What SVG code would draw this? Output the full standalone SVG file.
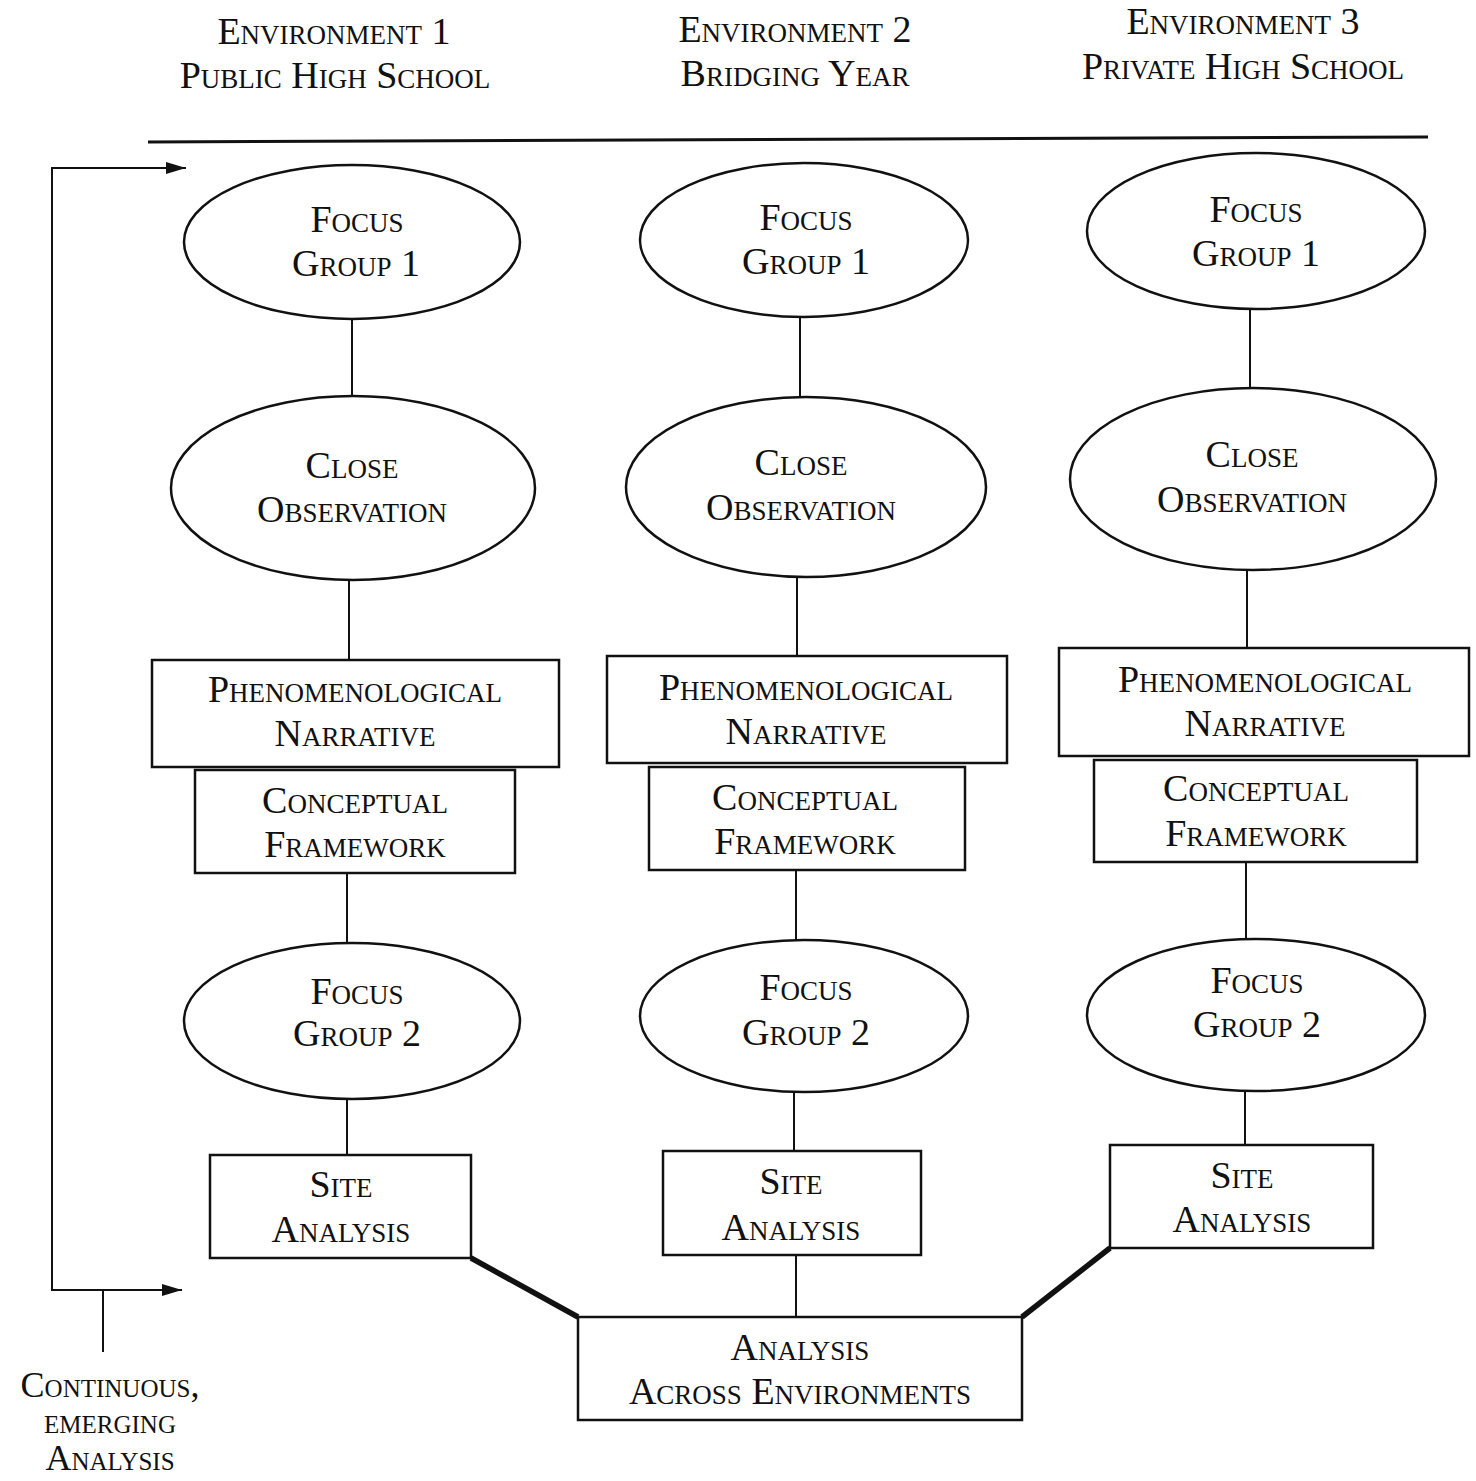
<svg xmlns="http://www.w3.org/2000/svg" width="1476" height="1481" viewBox="0 0 1476 1481">
  <style>
    .bg { fill: #ffffff; }
    .shape { fill: #ffffff; stroke: #111111; stroke-width: 2.5; }
    .conn { stroke: #111111; stroke-width: 2; fill: none; }
    .thick { stroke: #111111; stroke-width: 5.5; fill: none; }
    .rule { stroke: #111111; stroke-width: 3; fill: none; }
    .lbl { font-family: "Liberation Serif", "Times New Roman", serif; font-size: 38px; font-variant: small-caps; fill: #111111; text-anchor: middle; }
    .cap { font-size: 36px; }
  </style>
  <defs>
    <marker id="arrow" viewBox="0 0 20 12" refX="20" refY="6" markerWidth="20" markerHeight="12" markerUnits="userSpaceOnUse" orient="auto">
      <path d="M0,0 L20,6 L0,12 Z" fill="#111111"/>
    </marker>
  </defs>
  <rect class="bg" x="0" y="0" width="1476" height="1481"/>

  <!-- column headings -->
  <g id="headings">
    <text class="lbl" x="334" y="44">Environment 1</text>
    <text class="lbl" x="335" y="88">Public High School</text>
    <text class="lbl" x="795" y="42">Environment 2</text>
    <text class="lbl" x="795" y="86">Bridging Year</text>
    <text class="lbl" x="1243" y="34">Environment 3</text>
    <text class="lbl" x="1243" y="79">Private High School</text>
    <line class="rule" x1="148" y1="142" x2="1428" y2="137"/>
  </g>

  <!-- connectors -->
  <g id="connectors">
    <!-- environment 1 -->
    <line class="conn" x1="352" y1="319" x2="352" y2="397"/>
    <line class="conn" x1="349" y1="580" x2="349" y2="660"/>
    <line class="conn" x1="347" y1="873" x2="347" y2="943"/>
    <line class="conn" x1="347" y1="1100" x2="347" y2="1155"/>
    <!-- environment 2 -->
    <line class="conn" x1="800" y1="317" x2="800" y2="397"/>
    <line class="conn" x1="797" y1="577" x2="797" y2="656"/>
    <line class="conn" x1="796" y1="870" x2="796" y2="940"/>
    <line class="conn" x1="794" y1="1092" x2="794" y2="1151"/>
    <!-- environment 3 -->
    <line class="conn" x1="1250" y1="308" x2="1250" y2="387"/>
    <line class="conn" x1="1247" y1="570" x2="1247" y2="648"/>
    <line class="conn" x1="1246" y1="862" x2="1246" y2="940"/>
    <line class="conn" x1="1245" y1="1090" x2="1245" y2="1145"/>
    <!-- into the cross-environment analysis -->
    <line class="conn" x1="796" y1="1255" x2="796" y2="1317"/>
    <polyline class="thick" points="471,1258 578,1317"/>
    <polyline class="thick" points="1022,1317 1110,1248"/>
    <!-- continuous analysis loop -->
    <polyline class="conn" points="52,168 52,1290 182,1290" marker-end="url(#arrow)"/>
    <line class="conn" x1="51" y1="168" x2="186" y2="168" marker-end="url(#arrow)"/>
    <line class="conn" x1="103" y1="1290" x2="103" y2="1352"/>
  </g>

  <!-- environment 1 nodes -->
  <g id="e1-focus1">
    <ellipse class="shape" cx="352" cy="242" rx="168" ry="77"/>
    <text class="lbl" x="357" y="232">Focus</text>
    <text class="lbl" x="356" y="276">Group 1</text>
  </g>
  <g id="e1-observation">
    <ellipse class="shape" cx="353" cy="488" rx="182" ry="92"/>
    <text class="lbl" x="352" y="478">Close</text>
    <text class="lbl" x="352" y="522">Observation</text>
  </g>
  <g id="e1-narrative">
    <rect class="shape" x="152" y="660" width="407" height="107"/>
    <text class="lbl" x="355" y="702">Phenomenological</text>
    <text class="lbl" x="355" y="746">Narrative</text>
  </g>
  <g id="e1-framework">
    <rect class="shape" x="195" y="770" width="320" height="103"/>
    <text class="lbl" x="355" y="813">Conceptual</text>
    <text class="lbl" x="355" y="857">Framework</text>
  </g>
  <g id="e1-focus2">
    <ellipse class="shape" cx="352" cy="1021" rx="168" ry="78"/>
    <text class="lbl" x="357" y="1004">Focus</text>
    <text class="lbl" x="357" y="1046">Group 2</text>
  </g>
  <g id="e1-site">
    <rect class="shape" x="210" y="1155" width="261" height="103"/>
    <text class="lbl" x="341" y="1197">Site</text>
    <text class="lbl" x="341" y="1242">Analysis</text>
  </g>

  <!-- environment 2 nodes -->
  <g id="e2-focus1">
    <ellipse class="shape" cx="804" cy="240" rx="164" ry="77"/>
    <text class="lbl" x="806" y="230">Focus</text>
    <text class="lbl" x="806" y="274">Group 1</text>
  </g>
  <g id="e2-observation">
    <ellipse class="shape" cx="806" cy="487" rx="180" ry="90"/>
    <text class="lbl" x="801" y="475">Close</text>
    <text class="lbl" x="801" y="520">Observation</text>
  </g>
  <g id="e2-narrative">
    <rect class="shape" x="607" y="656" width="400" height="107"/>
    <text class="lbl" x="806" y="700">Phenomenological</text>
    <text class="lbl" x="806" y="744">Narrative</text>
  </g>
  <g id="e2-framework">
    <rect class="shape" x="649" y="767" width="316" height="103"/>
    <text class="lbl" x="805" y="810">Conceptual</text>
    <text class="lbl" x="805" y="854">Framework</text>
  </g>
  <g id="e2-focus2">
    <ellipse class="shape" cx="804" cy="1016" rx="164" ry="76"/>
    <text class="lbl" x="806" y="1000">Focus</text>
    <text class="lbl" x="806" y="1045">Group 2</text>
  </g>
  <g id="e2-site">
    <rect class="shape" x="663" y="1151" width="258" height="104"/>
    <text class="lbl" x="791" y="1194">Site</text>
    <text class="lbl" x="791" y="1240">Analysis</text>
  </g>

  <!-- environment 3 nodes -->
  <g id="e3-focus1">
    <ellipse class="shape" cx="1256" cy="231" rx="169" ry="78"/>
    <text class="lbl" x="1256" y="222">Focus</text>
    <text class="lbl" x="1256" y="266">Group 1</text>
  </g>
  <g id="e3-observation">
    <ellipse class="shape" cx="1253" cy="479" rx="183" ry="91"/>
    <text class="lbl" x="1252" y="467">Close</text>
    <text class="lbl" x="1252" y="512">Observation</text>
  </g>
  <g id="e3-narrative">
    <rect class="shape" x="1059" y="648" width="410" height="108"/>
    <text class="lbl" x="1265" y="692">Phenomenological</text>
    <text class="lbl" x="1265" y="736">Narrative</text>
  </g>
  <g id="e3-framework">
    <rect class="shape" x="1094" y="760" width="323" height="102"/>
    <text class="lbl" x="1256" y="801">Conceptual</text>
    <text class="lbl" x="1256" y="846">Framework</text>
  </g>
  <g id="e3-focus2">
    <ellipse class="shape" cx="1256" cy="1015" rx="169" ry="76"/>
    <text class="lbl" x="1257" y="993">Focus</text>
    <text class="lbl" x="1257" y="1037">Group 2</text>
  </g>
  <g id="e3-site">
    <rect class="shape" x="1110" y="1145" width="263" height="103"/>
    <text class="lbl" x="1242" y="1188">Site</text>
    <text class="lbl" x="1242" y="1232">Analysis</text>
  </g>

  <!-- cross-environment analysis -->
  <g id="across">
    <rect class="shape" x="578" y="1317" width="444" height="103"/>
    <text class="lbl" x="800" y="1360">Analysis</text>
    <text class="lbl" x="800" y="1404">Across Environments</text>
  </g>

  <!-- loop caption -->
  <g id="loop-caption">
    <text class="lbl cap" x="110" y="1397">Continuous,</text>
    <text class="lbl cap" x="110" y="1433">emerging</text>
    <text class="lbl cap" x="110" y="1470">Analysis</text>
  </g>
</svg>
